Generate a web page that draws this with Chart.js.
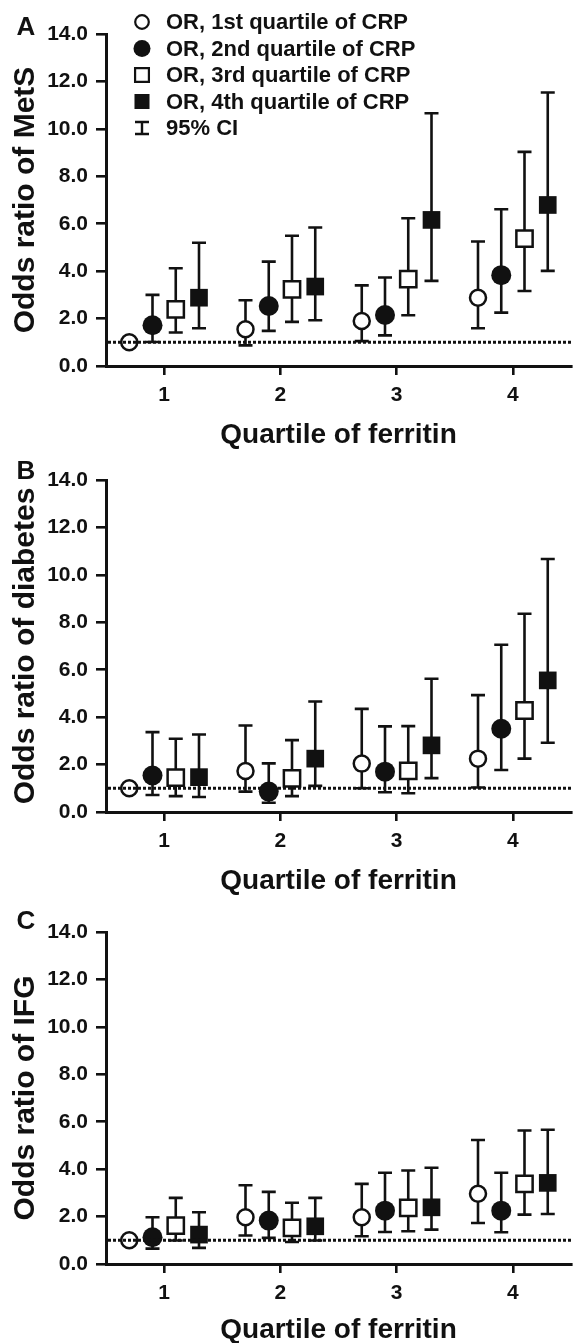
<!DOCTYPE html>
<html>
<head>
<meta charset="utf-8">
<script src="https://cdn.jsdelivr.net/npm/chart.js@4.4.0/dist/chart.umd.min.js"></script>
<style>
  html, body { margin: 0; padding: 0; background: #fff; overflow: hidden; }
  body { width: 585px; height: 1343px; position: relative; }
  canvas { position: absolute; left: 0; }
</style>
</head>
<body>
<canvas id="chartA" width="585" height="452" style="top:0px"></canvas>
<canvas id="chartB" width="585" height="452" style="top:446px"></canvas>
<canvas id="chartC" width="585" height="452" style="top:898px"></canvas>
<script>
var ferritinQuartiles = [1, 2, 3, 4];
var yTicks = [0, 2, 4, 6, 8, 10, 12, 14];
var crpLabels = ["OR, 1st quartile of CRP", "OR, 2nd quartile of CRP", "OR, 3rd quartile of CRP", "OR, 4th quartile of CRP"];
var ciLabel = "95% CI";
var referenceOR = 1;

// rows = CRP quartile 1..4, columns = ferritin quartile 1..4
var metsOR   = [[1.00, 1.55, 1.90, 2.88], [1.72, 2.53, 2.15, 3.83], [2.39, 3.23, 3.66, 5.37], [2.88, 3.35, 6.16, 6.79]];
var metsLow  = [[null, 0.87, 1.05, 1.59], [1.01, 1.48, 1.29, 2.25], [1.41, 1.86, 2.14, 3.16], [1.59, 1.93, 3.59, 4.01]];
var metsHigh = [[null, 2.77, 3.40, 5.25], [3.00, 4.40, 3.73, 6.61], [4.12, 5.49, 6.23, 9.03], [5.20, 5.84, 10.66, 11.53]];

var diabOR   = [[1.00, 1.73, 2.04, 2.25], [1.54, 0.86, 1.70, 3.51], [1.45, 1.42, 1.73, 4.28], [1.47, 2.25, 2.81, 5.55]];
var diabLow  = [[null, 0.86, 1.00, 1.03], [0.72, 0.39, 0.83, 1.77], [0.67, 0.67, 0.79, 2.25], [0.63, 1.10, 1.43, 2.92]];
var diabHigh = [[null, 3.65, 4.35, 4.93], [3.37, 2.05, 3.61, 7.05], [3.09, 3.03, 3.62, 8.36], [3.27, 4.66, 5.62, 10.67]];

var ifgOR   = [[1.00, 1.97, 1.97, 2.96], [1.13, 1.83, 2.25, 2.25], [1.62, 1.52, 2.37, 3.38], [1.24, 1.59, 2.39, 3.42]];
var ifgLow  = [[null, 1.20, 1.17, 1.73], [0.65, 1.10, 1.35, 1.34], [0.99, 0.93, 1.38, 2.08], [0.68, 0.99, 1.45, 2.11]];
var ifgHigh = [[null, 3.32, 3.38, 5.23], [1.97, 3.04, 3.85, 3.85], [2.79, 2.58, 3.94, 5.63], [2.18, 2.79, 4.06, 5.66]];

var ink = "#111";
var fontFamily = "'Liberation Sans', Arial, sans-serif";
var dodge = [-0.3, -0.1, 0.1, 0.3];
var markers = [
  { style: "circle", radius: 8, fill: "#fff", border: 2.5 },
  { style: "circle", radius: 10, fill: ink, border: 0 },
  { style: "rect", radius: 11.5, fill: "#fff", border: 2.5 },
  { style: "rect", radius: 12.5, fill: ink, border: 0 }
];

var errorBars = {
  id: "errorBars",
  beforeDatasetsDraw: function (chart) {
    var ctx = chart.ctx, xs = chart.scales.x, ys = chart.scales.y;
    ctx.save();
    ctx.strokeStyle = ink;
    ctx.lineWidth = 2.6;
    chart.data.datasets.forEach(function (ds) {
      ds.data.forEach(function (p, i) {
        if (ds.low[i] == null) return;
        var px = xs.getPixelForValue(p.x);
        var lo = ys.getPixelForValue(ds.low[i]);
        var hi = ys.getPixelForValue(ds.high[i]);
        ctx.beginPath();
        ctx.moveTo(px, lo); ctx.lineTo(px, hi);
        ctx.moveTo(px - 7, lo); ctx.lineTo(px + 7, lo);
        ctx.moveTo(px - 7, hi); ctx.lineTo(px + 7, hi);
        ctx.stroke();
      });
    });
    ctx.restore();
  },
  afterDatasetsDraw: function (chart) {
    var ctx = chart.ctx, area = chart.chartArea;
    var py = chart.scales.y.getPixelForValue(referenceOR);
    ctx.save();
    ctx.strokeStyle = ink;
    ctx.lineWidth = 3;
    ctx.setLineDash([3, 2]);
    ctx.beginPath();
    ctx.moveTo(area.left + 2, py);
    ctx.lineTo(area.right, py);
    ctx.stroke();
    ctx.restore();
  }
};

function drawMarker(ctx, m, x, y, scale) {
  ctx.fillStyle = m.fill;
  ctx.strokeStyle = ink;
  ctx.lineWidth = 2.2;
  ctx.beginPath();
  if (m.style === "circle") {
    ctx.arc(x, y, m.radius * scale, 0, Math.PI * 2);
  } else {
    var h = m.radius * Math.SQRT1_2 * scale;
    ctx.rect(x - h, y - h, 2 * h, 2 * h);
  }
  ctx.fill();
  if (m.border) ctx.stroke();
}

function makeLegend() {
  return {
    id: "crpLegend",
    afterDraw: function (chart) {
      var ctx = chart.ctx;
      var rows = [22, 48.5, 75, 101.5, 128];
      ctx.save();
      ctx.font = "bold 22px " + fontFamily;
      ctx.textBaseline = "middle";
      ctx.textAlign = "left";
      crpLabels.forEach(function (label, k) {
        drawMarker(ctx, markers[k], 142, rows[k], 0.85);
        ctx.fillStyle = ink;
        ctx.fillText(label, 166, rows[k] + 1);
      });
      var y = rows[4];
      ctx.strokeStyle = ink;
      ctx.lineWidth = 2.4;
      ctx.beginPath();
      ctx.moveTo(142, y - 6); ctx.lineTo(142, y + 6);
      ctx.moveTo(135, y - 6); ctx.lineTo(149, y - 6);
      ctx.moveTo(135, y + 6); ctx.lineTo(149, y + 6);
      ctx.stroke();
      ctx.fillStyle = ink;
      ctx.fillText(ciLabel, 166, y + 1);
      ctx.restore();
    }
  };
}

function makeLetter(letter, y) {
  return {
    id: "panelLetter",
    afterDraw: function (chart) {
      var ctx = chart.ctx;
      ctx.save();
      ctx.font = "bold 26px " + fontFamily;
      ctx.fillStyle = ink;
      ctx.textAlign = "center";
      ctx.textBaseline = "middle";
      ctx.fillText(letter, 26, y);
      ctx.restore();
    }
  };
}

function makeChart(id, letter, letterY, yTitle, or, low, high, legend, titlePad) {
  var datasets = or.map(function (row, k) {
    return {
      label: crpLabels[k],
      data: ferritinQuartiles.map(function (q, i) { return { x: q + dodge[k], y: row[i] }; }),
      low: low[k],
      high: high[k],
      pointStyle: markers[k].style,
      pointRadius: markers[k].radius,
      pointBackgroundColor: markers[k].fill,
      pointBorderColor: ink,
      pointBorderWidth: markers[k].border,
      showLine: false,
      clip: false
    };
  });
  var plugins = [errorBars, makeLetter(letter, letterY)];
  if (legend) plugins.push(makeLegend());
  return new Chart(document.getElementById(id), {
    type: "scatter",
    data: { datasets: datasets },
    plugins: plugins,
    options: {
      responsive: false,
      animation: false,
      events: [],
      layout: { padding: { top: 34, left: 0, right: 0, bottom: 0 } },
      plugins: { legend: { display: false }, tooltip: { enabled: false } },
      scales: {
        x: {
          type: "linear",
          min: 0.5,
          max: 4.5,
          afterBuildTicks: function (s) { s.ticks = ferritinQuartiles.map(function (v) { return { value: v }; }); },
          afterFit: function (s) { s.height = 86; },
          grid: { drawOnChartArea: false, drawTicks: true, tickLength: 9, color: ink, lineWidth: 2.6 },
          border: { display: true, color: ink, width: 3 },
          ticks: { color: ink, padding: 8, font: { family: fontFamily, size: 21, weight: "bold" }, callback: function (v) { return String(v); } },
          title: { display: true, text: "Quartile of ferritin", color: ink, padding: { top: 0, bottom: titlePad }, font: { family: fontFamily, size: 28, weight: "bold" } }
        },
        y: {
          min: 0,
          max: 14,
          afterBuildTicks: function (s) { s.ticks = yTicks.map(function (v) { return { value: v }; }); },
          afterFit: function (s) { s.width = 106; },
          grid: { drawOnChartArea: false, drawTicks: true, tickLength: 10, color: ink, lineWidth: 2.6 },
          border: { display: true, color: ink, width: 3 },
          ticks: { color: ink, padding: 8, font: { family: fontFamily, size: 21, weight: "bold" }, callback: function (v) { return v.toFixed(1); } },
          title: { display: true, text: yTitle, color: ink, padding: { top: 8, bottom: 0 }, font: { family: fontFamily, size: 30, weight: "bold" } }
        }
      }
    }
  });
}

makeChart("chartA", "A", 28, "Odds ratio of MetS", metsOR, metsLow, metsHigh, true, 0);
makeChart("chartB", "B", 26, "Odds ratio of diabetes", diabOR, diabLow, diabHigh, false, 0);
makeChart("chartC", "C", 24, "Odds ratio of IFG", ifgOR, ifgLow, ifgHigh, false, 3);
</script>
</body>
</html>
